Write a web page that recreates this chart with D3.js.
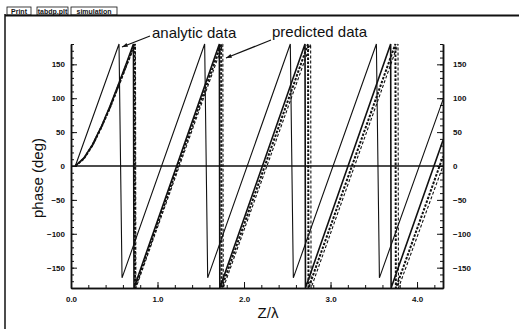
<!DOCTYPE html>
<html>
<head>
<meta charset="utf-8">
<script src="https://cdnjs.cloudflare.com/ajax/libs/d3/7.8.5/d3.min.js"></script>
<style>
body{margin:0;background:#fff;}
svg{display:block;font-family:"Liberation Sans",Arial,sans-serif;}
.tick text{font-weight:bold;font-size:8px;fill:#111;}
.axis path,.axis line{stroke:#111;}
</style>
</head>
<body>
<svg id="chart" width="519" height="329"></svg>
<script>

var xTicks = [0,1,2,3,4];
var xTickLabels = ["0.0","1.0","2.0","3.0","4.0"];
var yTicks = [-150,-100,-50,0,50,100,150];
var tabs = ["Print","tabdp.plt","simulation"];

// analytic data, straight (solid)
var analyticA = [[0.05,0],[0.555,180],[0.59,-165],[1.545,180],[1.58,-165],
  [2.535,180],[2.57,-165],[3.53,180],[3.565,-165],[4.3,98]];

// analytic data, bent start (solid)
var analyticB = [[0.05,0],[0.15,12],[0.25,32],[0.35,58],[0.45,88],[0.55,121],[0.65,155],
  [0.722,180],[0.728,-180],[1.715,180],[1.72,-180],[2.705,180],[2.71,-180],
  [3.695,180],[3.70,-180],[4.3,38]];

// predicted data (dashed)
var predictedA = [[0.05,0],[0.15,11],[0.25,31],[0.35,57],[0.45,86],[0.55,119],[0.65,152],
  [0.735,180],[0.74,-180],[1.735,180],[1.74,-180],[2.74,180],[2.745,-180],
  [3.75,180],[3.755,-180],[4.3,14]];
var predictedB = [[0.05,0],[0.15,11],[0.25,30],[0.35,56],[0.45,85],[0.55,117],[0.65,150],
  [0.745,180],[0.75,-180],[1.755,180],[1.76,-180],[2.77,180],[2.775,-180],
  [3.78,180],[3.785,-180],[4.3,0]];

var svg = d3.select("#chart");
var plotLeft = 71, plotRight = 443, plotTop = 44, plotBottom = 288;

var x = d3.scaleLinear().domain([0,4.3]).range([plotLeft,plotRight]);
var y = d3.scaleLinear().domain([-180,180]).range([plotBottom,plotTop]);

svg.append("rect").attr("width",519).attr("height",329).attr("fill","#fff");

// window frame and tab bar
svg.append("line").attr("x1",5).attr("x2",5).attr("y1",14).attr("y2",329)
  .attr("stroke","#111").attr("stroke-width",1.5);
svg.append("line").attr("x1",5).attr("x2",519).attr("y1",15.5).attr("y2",15.5)
  .attr("stroke","#111").attr("stroke-width",2);

var tabX = [7,37,71];
var tabW = [24,31,46];
tabs.forEach(function(t,i){
  svg.append("rect").attr("x",tabX[i]).attr("y",7).attr("width",tabW[i]).attr("height",8)
    .attr("fill","none").attr("stroke","#111").attr("stroke-width",0.8);
  svg.append("text").attr("x",tabX[i]+tabW[i]/2).attr("y",14)
    .attr("text-anchor","middle").attr("font-size",7).attr("font-weight","bold")
    .attr("fill","#111").text(t);
});

// axes
svg.append("g").attr("class","axis")
  .attr("transform","translate(0,"+plotBottom+")")
  .call(d3.axisBottom(x).tickValues(d3.range(0,4.3,0.2)).tickSize(-3).tickSizeOuter(0).tickFormat(""));
svg.append("g").attr("class","axis")
  .attr("transform","translate(0,"+plotBottom+")")
  .call(d3.axisBottom(x).tickValues(xTicks).tickSize(-6).tickSizeOuter(0).tickPadding(8)
    .tickFormat(function(d,i){ return xTickLabels[i];}));

svg.append("g").attr("class","axis")
  .attr("transform","translate("+plotLeft+",0)")
  .call(d3.axisLeft(y).tickValues(d3.range(-180,181,10)).tickSize(-3).tickSizeOuter(0).tickFormat(""));
svg.append("g").attr("class","axis")
  .attr("transform","translate("+plotLeft+",0)")
  .call(d3.axisLeft(y).tickValues(yTicks).tickSize(-6).tickSizeOuter(0).tickPadding(6));

svg.append("g").attr("class","axis")
  .attr("transform","translate("+plotRight+",0)")
  .call(d3.axisRight(y).tickValues(d3.range(-180,181,10)).tickSize(-3).tickSizeOuter(0).tickFormat(""));
svg.append("g").attr("class","axis")
  .attr("transform","translate("+plotRight+",0)")
  .call(d3.axisRight(y).tickValues(yTicks).tickSize(-6).tickSizeOuter(0).tickPadding(10));

svg.selectAll(".axis .domain").attr("stroke-width",1.5);

// zero line
svg.append("line").attr("x1",plotLeft).attr("x2",plotRight).attr("y1",y(0)).attr("y2",y(0))
  .attr("stroke","#111").attr("stroke-width",1.6);

// curves
var line = d3.line().x(function(d){ return x(d[0]);}).y(function(d){ return y(d[1]);});

var series = [
  {data:analyticA, width:1.1, dash:null},
  {data:predictedA, width:2, dash:"2.5,1.5"},
  {data:analyticB, width:1.6, dash:null},
  {data:predictedB, width:1.1, dash:"3,2"}
];

svg.selectAll("path.curve").data(series).enter().append("path")
  .attr("class","curve")
  .attr("d",function(d){ return line(d.data);})
  .attr("fill","none")
  .attr("stroke","#111")
  .attr("stroke-width",function(d){ return d.width;})
  .attr("stroke-dasharray",function(d){ return d.dash;});

// axis titles
svg.append("text").attr("x",268).attr("y",318).attr("text-anchor","middle")
  .attr("font-size",15).attr("fill","#111").text("Z/λ");
svg.append("text").attr("transform","translate(43,178) rotate(-90)")
  .attr("text-anchor","middle").attr("font-size",15).attr("fill","#111").text("phase (deg)");

// annotations
svg.append("text").attr("x",152).attr("y",38).attr("font-size",15).attr("fill","#111").text("analytic data");
svg.append("text").attr("x",272).attr("y",37).attr("font-size",15).attr("fill","#111").text("predicted data");

function arrow(x1,y1,x2,y2){
  svg.append("line").attr("x1",x1).attr("y1",y1).attr("x2",x2).attr("y2",y2)
    .attr("stroke","#111").attr("stroke-width",1.2);
  var a = Math.atan2(y2-y1,x2-x1), s = 6;
  var p = [[x2,y2],
    [x2-s*Math.cos(a-0.35),y2-s*Math.sin(a-0.35)],
    [x2-s*Math.cos(a+0.35),y2-s*Math.sin(a+0.35)]];
  svg.append("polygon").attr("points",p.join(" ")).attr("fill","#111");
}
arrow(150,36,122,47);
arrow(271,40,226,58);

</script>
</body>
</html>
